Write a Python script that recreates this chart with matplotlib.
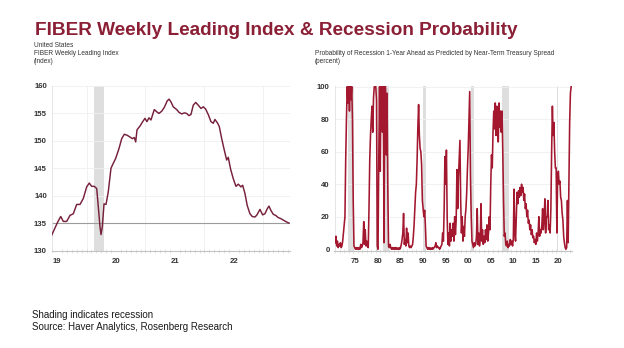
import numpy as np
import matplotlib
matplotlib.use("Agg")
import matplotlib.pyplot as plt
from matplotlib.ticker import FixedLocator, MultipleLocator

# ---------------- data ----------------
# FIBER Weekly Leading Index (fractional year, index value)
fiber_t = [2019.410, 2019.512, 2019.563, 2019.607, 2019.664, 2019.720, 2019.776, 2019.834,
           2019.890, 2019.946, 2020.003, 2020.047, 2020.088, 2020.132, 2020.173, 2020.200,
           2020.229, 2020.246, 2020.268, 2020.297, 2020.331, 2020.369, 2020.415, 2020.454,
           2020.495, 2020.551, 2020.597, 2020.641, 2020.692, 2020.737, 2020.776, 2020.810,
           2020.834, 2020.856, 2020.907, 2020.953, 2020.992, 2021.025, 2021.059, 2021.093,
           2021.149, 2021.190, 2021.229, 2021.275, 2021.319, 2021.369, 2021.400, 2021.432,
           2021.471, 2021.529, 2021.568, 2021.614, 2021.658, 2021.698, 2021.737, 2021.771,
           2021.810, 2021.851, 2021.895, 2021.941, 2021.980, 2022.020, 2022.064, 2022.110,
           2022.149, 2022.178, 2022.224, 2022.251, 2022.292, 2022.336, 2022.376, 2022.403,
           2022.444, 2022.488, 2022.534, 2022.573, 2022.619, 2022.647, 2022.686, 2022.725,
           2022.771, 2022.810, 2022.856, 2022.890, 2022.941, 2022.986, 2023.025, 2023.064,
           2023.093, 2023.127, 2023.166, 2023.207, 2023.251, 2023.297, 2023.342, 2023.393,
           2023.432]
fiber_v = [132.8, 135.2, 136.2, 135.3, 135.3, 136.4, 136.7, 138.4,
           138.4, 139.5, 141.6, 142.3, 141.7, 141.7, 141.3, 138.0,
           134.3, 132.9, 134.3, 138.5, 138.4, 140.7, 145.0, 145.9,
           146.8, 148.6, 150.4, 151.2, 151.0, 150.7, 150.4, 150.6,
           149.8, 152.0, 152.7, 153.5, 154.1, 153.5, 154.2, 153.8,
           155.7, 155.3, 155.0, 155.4, 156.1, 157.3, 157.6, 157.1,
           156.2, 155.7, 155.2, 154.9, 155.1, 155.0, 154.6, 154.8,
           156.5, 157.0, 156.5, 155.9, 156.2, 155.8, 154.8, 153.5,
           153.2, 153.9, 153.2, 152.6, 150.4, 148.3, 146.5, 147.0,
           144.8, 143.1, 141.7, 142.1, 141.6, 141.9, 140.4, 138.2,
           136.7, 136.2, 136.1, 136.5, 137.5, 136.5, 136.7, 137.6,
           138.1, 137.3, 136.6, 136.4, 136.0, 135.8, 135.5, 135.2,
           135.0]
fiber_ref = 135

# Probability of recession (percent), six readings per year starting 1971
prob_start = 1971.0
prob_per_year = 6
prob_1971_1980 = [4, 8, 2, 5, 1, 3,
                  2, 4, 1, 2, 5, 10,
                  15, 20, 55, 80, 100, 90,
                  100, 85, 100, 92, 100, 80,
                  30, 2, 1, 0, 1, 0,
                  1, 0, 1, 0, 3, 1,
                  2, 4, 17, 3, 12, 2,
                  5, 2, 1, 25, 55, 70,
                  80, 88, 72, 93, 100, 100,
                  100, 92, 2, 0, 55, 100]
prob_1981_1990 = [48, 100, 100, 72, 100, 4,
                  100, 100, 58, 96, 38, 2,
                  1, 3, 1, 0, 1, 0,
                  1, 0, 1, 0, 1, 0,
                  0, 1, 0, 1, 3, 6,
                  10, 22, 3, 6, 2, 13,
                  4, 10, 2, 1, 2, 1,
                  2, 3, 8, 15, 25, 35,
                  40, 55, 75, 89, 70, 62,
                  60, 52, 30, 25, 20, 24]
prob_1991_2000 = [15, 2, 1, 0, 1, 0,
                  1, 0, 0, 1, 0, 1,
                  1, 2, 4, 1, 2, 1,
                  1, 0, 1, 2, 3, 10,
                  5, 25, 57, 40, 61, 20,
                  3, 10, 2, 16, 5, 12,
                  8, 16, 5, 20, 9, 18,
                  49, 25, 44, 55, 67, 30,
                  10, 20, 5, 14, 8, 20,
                  25, 35, 50, 62, 80, 97]
prob_2001_2010 = [45, 20, 5, 3, 1, 4,
                  2, 3, 8, 25, 3, 10,
                  2, 6, 28, 5, 12, 3,
                  8, 4, 12, 6, 15, 5,
                  10, 20, 12, 40, 58, 50,
                  72, 85, 74, 90, 70, 88,
                  80, 66, 90, 75, 85, 72,
                  85, 60, 30, 8, 10, 3,
                  2, 5, 1, 3, 2, 6,
                  3, 5, 2, 6, 37, 10]
prob_2011_2023 = [5, 20, 35, 28, 36, 32,
                  38, 33, 40, 35, 38, 30,
                  34, 25, 28, 20, 24, 16,
                  18, 12, 15, 9, 12, 7,
                  8, 4, 6, 3, 10, 5,
                  10, 20, 8, 12, 10, 15,
                  25, 12, 18, 31, 10, 20,
                  20, 30, 12, 15, 10, 25,
                  60, 88, 70, 78, 60, 50,
                  50, 10, 45, 48, 40, 42,
                  32, 30, 22, 18, 8, 4,
                  1, 0, 1, 30, 4, 40,
                  78, 96, 100]
prob_values = prob_1971_1980 + prob_1981_1990 + prob_1991_2000 + prob_2001_2010 + prob_2011_2023

left_recessions = [(2020.13, 2020.29)]
right_recessions = [(1973.87, 1975.17), (1980.0, 1980.5), (1981.5, 1982.87),
                    (1990.5, 1991.17), (2001.17, 2001.87), (2007.92, 2009.5),
                    (2020.08, 2020.33)]

left_yticks = [130, 135, 140, 145, 150, 155, 160]
left_xtick_pos = [2019.5, 2020.5, 2021.5, 2022.5]
left_xtick_labels = ["19", "20", "21", "22"]
left_grid_x = [2020, 2021, 2022, 2023]

right_yticks = [0, 20, 40, 60, 80, 100]
right_xtick_pos = [1975.5, 1980.5, 1985.5, 1990.5, 1995.5, 2000.5, 2005.5, 2010.5, 2015.5, 2020.5]
right_xtick_labels = ["75", "80", "85", "90", "95", "00", "05", "10", "15", "20"]

title = "FIBER Weekly Leading Index & Recession Probability"
left_sub = ["United States", "FIBER Weekly Leading Index", "(index)"]
right_sub = ["Probability of Recession 1-Year Ahead as Predicted by Near-Term Treasury Spread", "(percent)"]
footer = ["Shading indicates recession", "Source: Haver Analytics, Rosenberg Research"]

# ---------------- styling ----------------
TITLE_C = "#8B1F35"
LEFT_C = "#76203A"
RIGHT_C = "#A3172F"
SHADE_C = "#dedede"
GRID_C = "#efefef"
TXT_C = "#333333"
W, H = 624, 348

plt.rcParams["font.family"] = ["Liberation Sans", "DejaVu Sans"]

fig = plt.figure(figsize=(W / 100, H / 100), dpi=100)
fig.patch.set_facecolor("white")


def fx(px):
    return px / W


def fy(py):
    return 1 - py / H


fig.text(fx(35), fy(35), title, color=TITLE_C, fontsize=13.7, fontweight="bold",
         va="baseline", ha="left")
for txt, py in zip(left_sub, [45.7, 53.5, 61.7]):
    fig.text(fx(33.5), fy(py), txt, fontsize=4.7, color=TXT_C, va="center", ha="left")
for txt, py in zip(right_sub, [53.5, 61.7]):
    fig.text(fx(315), fy(py), txt, fontsize=4.7, color=TXT_C, va="center", ha="left")
for txt, py in zip(footer, [315.5, 327.5]):
    fig.text(fx(32.5), fy(py), txt, fontsize=7.0, color="#1a1a1a", va="center", ha="left")


def style_axes(ax):
    for s in ["top", "right"]:
        ax.spines[s].set_visible(False)
    ax.spines["left"].set_color("#e2e2e2")
    ax.spines["left"].set_linewidth(0.6)
    ax.spines["bottom"].set_color("#c4c4c4")
    ax.spines["bottom"].set_linewidth(0.8)
    ax.tick_params(axis="y", length=0, pad=3.5, labelsize=5.6, labelcolor=TXT_C)
    ax.tick_params(axis="x", which="major", length=0, pad=5.5, labelsize=5.6, labelcolor=TXT_C)
    ax.tick_params(axis="x", which="minor", length=2.2, width=0.4, color="#cfcfcf", direction="inout")
    for lab in ax.get_yticklabels() + ax.get_xticklabels():
        lab.set_fontweight("bold")


# ---------------- left panel ----------------
axL = fig.add_axes([fx(51.7), fy(250.5), fx(290 - 51.7), (250.5 - 86) / H])
axL.set_xlim(2019.41, 2023.45)
axL.set_ylim(130, 160)
for a, b in left_recessions:
    axL.axvspan(a, b, color=SHADE_C, lw=0, zorder=0)
for y in left_yticks[1:]:
    axL.axhline(y, color=GRID_C, lw=0.6, zorder=0.5)
for x in left_grid_x:
    axL.axvline(x, color=GRID_C, lw=0.6, zorder=0.5)
axL.axhline(fiber_ref, color="#9c9c9c", lw=0.8, zorder=1)
axL.plot(fiber_t, fiber_v, color=LEFT_C, lw=1.05, zorder=3)
axL.yaxis.set_major_locator(FixedLocator(left_yticks))
axL.xaxis.set_major_locator(FixedLocator(left_xtick_pos))
axL.set_xticklabels(left_xtick_labels)
axL.xaxis.set_minor_locator(MultipleLocator(1 / 12))
style_axes(axL)

# ---------------- right panel ----------------
axR = fig.add_axes([fx(334.5), fy(250.7), fx(571.7 - 334.5), (250.7 - 86.2) / H])
prob_t = prob_start + np.arange(len(prob_values)) / prob_per_year
axR.set_xlim(1970.85, 2023.45)
axR.set_ylim(-0.9, 100.3)
for a, b in right_recessions:
    axR.axvspan(a, b, color=SHADE_C, lw=0, zorder=0)
for y in right_yticks[1:]:
    axR.axhline(y, color=GRID_C, lw=0.6, zorder=0.5)
axR.plot(prob_t, prob_values, color=RIGHT_C, lw=1.15, zorder=3)
axR.yaxis.set_major_locator(FixedLocator(right_yticks))
axR.xaxis.set_major_locator(FixedLocator(right_xtick_pos))
axR.set_xticklabels(right_xtick_labels)
axR.xaxis.set_minor_locator(MultipleLocator(1))
style_axes(axR)

fig.savefig("out.png", dpi=100, facecolor="white")
